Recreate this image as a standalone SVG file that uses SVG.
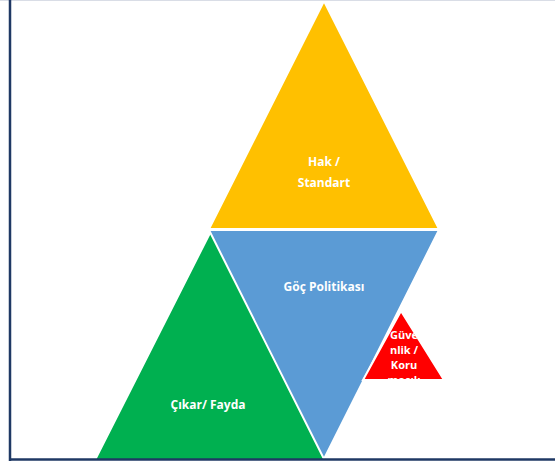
<svg xmlns="http://www.w3.org/2000/svg" width="555" height="466" viewBox="0 0 555 466">
<style>
  .lbl { font-family: "Open Sans", "Noto Sans", sans-serif; font-weight: 700; font-size: 12px; fill: #ffffff; text-anchor: middle; }
  .sm { font-size: 11px; }
  .tri { stroke: #ffffff; stroke-width: 2; stroke-linejoin: miter; }
</style>
<defs>
  <clipPath id="frameClip"><rect x="10" y="1" width="545" height="458"/></clipPath>
  <clipPath id="redClip"><polygon points="401,312 443,379 359,379"/></clipPath>
</defs>
<rect width="555" height="466" fill="#ffffff"/>
<g clip-path="url(#frameClip)">
  <g id="hak">
    <polygon class="tri" points="324,1 439,229 209,229" fill="#ffc000"/>
    <text class="lbl" x="324" y="166">Hak /</text>
    <text class="lbl" x="324" y="187">Standart</text>
  </g>
  <g id="cikar">
    <polygon class="tri" points="211,231 328,462 94,462" fill="#00b050"/>
    <text class="lbl" x="208" y="409">Çıkar/ Fayda</text>
  </g>
  <g id="goc">
    <polygon class="tri" points="209,230 439,230 324,459" fill="#5b9bd5"/>
    <text class="lbl" x="324" y="291">Göç Politikası</text>
  </g>
  <g id="guvenlik">
    <polygon class="tri" points="401,311 444,380 363,380" fill="#ff0000"/>
    <g clip-path="url(#redClip)">
      <text class="lbl sm" x="404" y="339">Güve</text>
      <text class="lbl sm" x="404" y="354">nlik /</text>
      <text class="lbl sm" x="404" y="369">Koru</text>
      <text class="lbl sm" x="404" y="384">maçılı</text>
    </g>
  </g>
</g>
<g id="connectors"></g>
<g id="frame">
  <line x1="0" y1="0.5" x2="555" y2="0.5" stroke="#d9dde6" stroke-width="1"/>
  <line x1="10" y1="0" x2="10" y2="461" stroke="#1f3864" stroke-width="2.5"/>
  <line x1="9" y1="459.5" x2="555" y2="459.5" stroke="#1f3864" stroke-width="2.5"/>
</g>
</svg>
